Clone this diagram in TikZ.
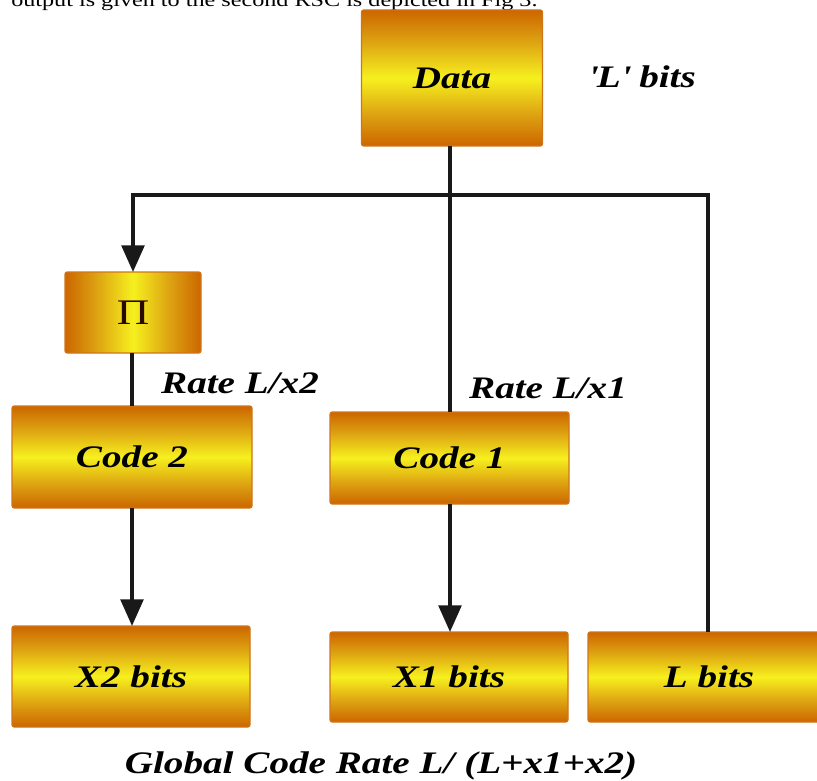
\documentclass[tikz,border=0pt]{standalone}
\usepackage{fontspec}
\setmainfont{Liberation Serif}[FakeStretch=1.25]
\usetikzlibrary{arrows.meta}

\definecolor{bord}{RGB}{204,102,0}
\definecolor{gold}{RGB}{222,165,18}
\definecolor{yel}{RGB}{246,240,30}
\definecolor{pitxt}{RGB}{40,10,0}

% orange edges fading to a bright yellow band in the middle
\pgfdeclareverticalshading{boxv}{100bp}{color(0bp)=(bord); color(25bp)=(bord);
  color(37bp)=(gold); color(50bp)=(yel); color(63bp)=(gold);
  color(75bp)=(bord); color(100bp)=(bord)}
\pgfdeclarehorizontalshading{boxh}{100bp}{color(0bp)=(bord); color(25bp)=(bord);
  color(37bp)=(gold); color(50bp)=(yel); color(63bp)=(gold);
  color(75bp)=(bord); color(100bp)=(bord)}

\tikzset{
  blk/.style={draw=bord!90, line width=0.8pt, rounded corners=1.5pt,
    inner sep=0pt, outer sep=0pt, shading=boxv,
    font=\fontsize{23.5}{26}\selectfont\bfseries\itshape},
  sz/.style 2 args={minimum width=#1*0.75pt, minimum height=#2*0.75pt},
  lab/.style={inner sep=0pt, font=\fontsize{23.5}{26}\selectfont\bfseries\itshape},
  wire/.style={line width=2.7pt, black!90},
  tip/.style={wire, -{Triangle[width=17pt,length=20pt]}}
}

\begin{document}
\begin{tikzpicture}[x=0.75pt, y=-0.75pt]
\useasboundingbox (0,0) rectangle (817,781);

% line of running text cut at the top edge
\node[anchor=base west, inner sep=0pt, font=\fontsize{14.5}{16}\selectfont]
  (txt) at (11,7) {output is given to the second RSC is depicted in Fig 3.};

% boxes
\node[blk, sz={181}{136}] (data) at (452,78) {Data};
\node[blk, sz={136}{81}, shading=boxh, text=pitxt,
  font=\fontsize{27}{30}\selectfont] (pi) at (133,312.5) {Π};
\node[blk, sz={240}{102}] (code2) at (132,457) {Code 2};
\node[blk, sz={239}{92}]  (code1) at (449.5,458) {Code 1};
\node[blk, sz={238}{101}] (x2) at (131,676.5) {X2 bits};
\node[blk, sz={238}{90}]  (x1) at (449,677) {X1 bits};
\node[blk, sz={242}{90}]  (lb) at (709,677) {L bits};

% labels
\node[lab] (lbl) at (642,77) {\textquotesingle L\textquotesingle\ bits};
\node[lab] (r2) at (240,383) {Rate L/x2};
\node[lab] (r1) at (548,388) {Rate L/x1};
\node[lab] (glob) at (381,766) {Global Code Rate L/ (L+x1+x2)};

% connectors
\coordinate (bus) at (450,195);
\draw[wire] (data.south -| bus) -- (code1.north -| bus);
\draw[tip] (lb.north -| 708,0) |- (bus -| pi.north) -- (pi.north);
\draw[wire] (pi.south -| 132,0) -- (code2.north -| 132,0);
\draw[tip] (code2.south -| 132,0) -- (x2.north -| 132,0);
\draw[tip] (code1.south -| bus) -- (x1.north -| bus);
\end{tikzpicture}
\end{document}
